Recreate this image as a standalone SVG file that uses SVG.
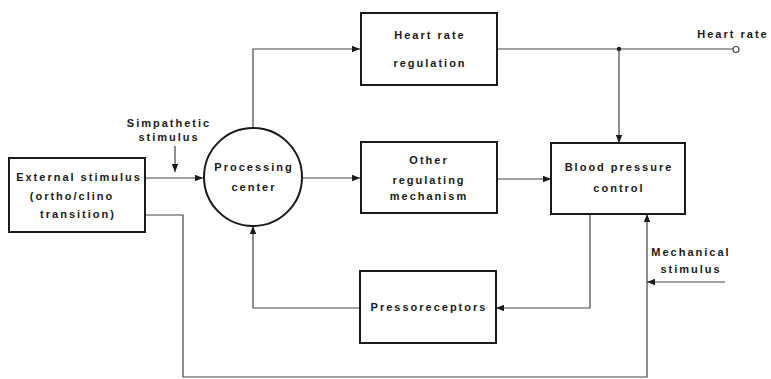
<svg xmlns="http://www.w3.org/2000/svg" width="771" height="379" viewBox="0 0 771 379">
<style>
.box{fill:#fff;stroke:#1a1a1a;stroke-width:2}
.ln{fill:none;stroke:#444;stroke-width:1.2}
text{font-family:"Liberation Sans",Arial,sans-serif;font-size:11px;font-weight:bold;fill:#1a1a1a;text-anchor:middle;letter-spacing:2px}
</style>
<defs>
<marker id="ah" viewBox="0 0 10 10" refX="10" refY="5" markerWidth="8" markerHeight="8" markerUnits="userSpaceOnUse" orient="auto">
<path d="M0,1 L10,5 L0,9 z" fill="#1a1a1a"/>
</marker>
</defs>
<rect width="771" height="379" fill="#fff"/>
<g id="connectors">
<line class="ln" x1="145" y1="178" x2="203" y2="178" marker-end="url(#ah)"/>
<line class="ln" x1="175" y1="146" x2="175" y2="172" marker-end="url(#ah)"/>
<polyline class="ln" points="253,128 253,49 360,49" marker-end="url(#ah)"/>
<line class="ln" x1="302" y1="178" x2="360" y2="178" marker-end="url(#ah)"/>
<line class="ln" x1="497" y1="179" x2="551" y2="179" marker-end="url(#ah)"/>
<line class="ln" x1="497" y1="49" x2="733" y2="49"/>
<circle cx="736" cy="49.5" r="3" fill="#fff" stroke="#444" stroke-width="1.2"/>
<circle cx="619" cy="49" r="2.2" fill="#1a1a1a"/>
<line class="ln" x1="619" y1="49" x2="619" y2="143" marker-end="url(#ah)"/>
<polyline class="ln" points="590,214 590,308 496,308" marker-end="url(#ah)"/>
<polyline class="ln" points="360,308 253,308 253,226" marker-end="url(#ah)"/>
<polyline class="ln" points="145,215 183,215 183,377 647,377 647,214" marker-end="url(#ah)"/>
<line class="ln" x1="725" y1="282" x2="647" y2="282" marker-end="url(#ah)"/>
</g>
<g id="external">
<rect class="box" x="9" y="158" width="136" height="74"/>
<text x="79" y="181">External stimulus</text>
<text x="72" y="200">(ortho/clino</text>
<text x="78" y="218">transition)</text>
</g>
<g id="processing">
<circle class="box" cx="253" cy="177" r="49"/>
<text x="254" y="171">Processing</text>
<text x="254" y="191">center</text>
</g>
<g id="heartrate">
<rect class="box" x="361" y="13" width="136" height="72"/>
<text x="430" y="39">Heart rate</text>
<text x="430" y="67">regulation</text>
</g>
<g id="other">
<rect class="box" x="361" y="142" width="136" height="71"/>
<text x="429" y="164">Other</text>
<text x="429" y="184">regulating</text>
<text x="429" y="200">mechanism</text>
</g>
<g id="bpc">
<rect class="box" x="551" y="143" width="134" height="71"/>
<text x="619" y="171">Blood pressure</text>
<text x="619" y="192">control</text>
</g>
<g id="presso">
<rect class="box" x="360" y="271" width="136" height="72"/>
<text x="429" y="311">Pressoreceptors</text>
</g>
<g id="labels">
<text x="169" y="127">Simpathetic</text>
<text x="169" y="141">stimulus</text>
<text x="733" y="38">Heart rate</text>
<text x="691" y="256">Mechanical</text>
<text x="691" y="273">stimulus</text>
</g>
</svg>
